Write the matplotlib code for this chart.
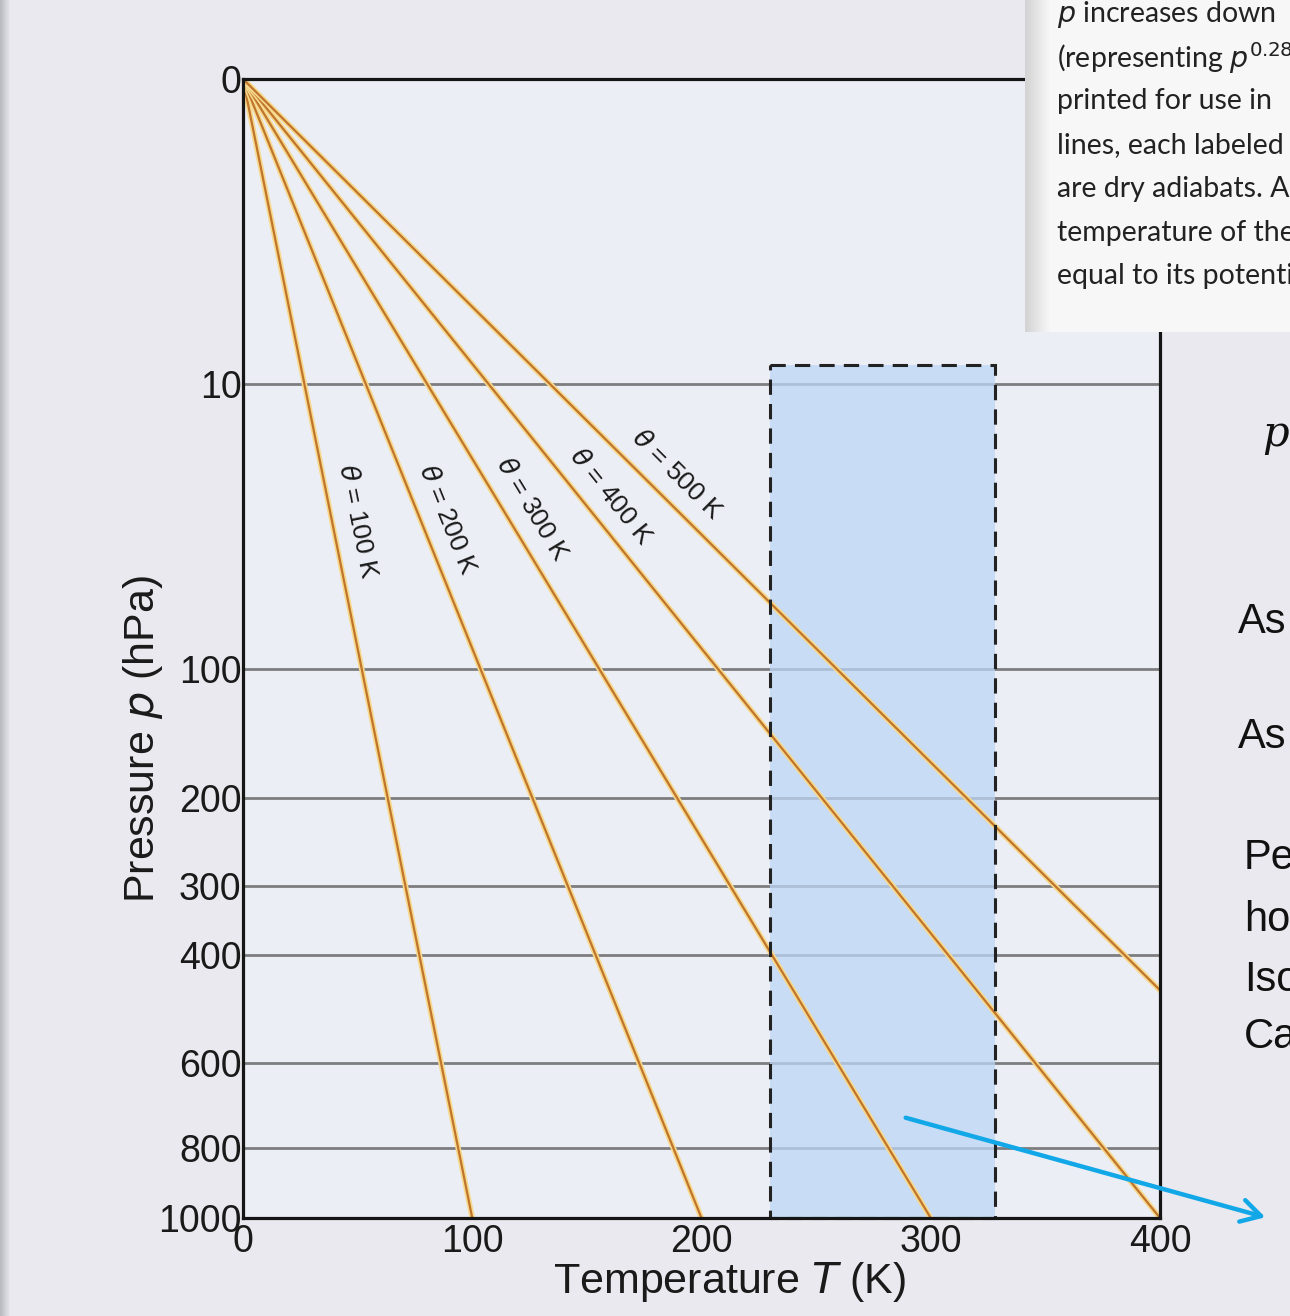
import numpy as np
import matplotlib
matplotlib.use("Agg")
import matplotlib.pyplot as plt
from matplotlib.patches import Rectangle
import matplotlib.patheffects as pe

plt.rcParams['font.family'] = ['Liberation Sans', 'DejaVu Sans']

KAPPA = 0.286
# dry adiabats (potential temperature, K) and where their labels sit (hPa)
thetas = [100, 200, 300, 400, 500]
label_p = [38, 39, 37, 34, 29]
# pressure grid / ticks (hPa)
p_ticks = [0, 10, 100, 200, 300, 400, 600, 800, 1000]
p_grid = [10, 100, 200, 300, 400, 600, 800]
T_ticks = [0, 100, 200, 300, 400]
# highlighted box: temperature range and top pressure
box_T = [230, 328]
box_p = [8, 1000]

inset_lines = ["$p$ increases down", "(representing $p^{0.286}$",
               "printed for use in", "lines, each labeled",
               "are dry adiabats. A", "temperature of the",
               "equal to its potential"]
side_words = ["As", "As", "Pe", "ho", "Iso", "Ca"]


def u(p):
    return np.asarray(p, dtype=float) ** KAPPA


u_max = float(u(1000))

fig = plt.figure(figsize=(12.9, 13.16), dpi=100)
fig.patch.set_facecolor('#e9e9ef')
ax = fig.add_axes([243/1290, 1 - 1218/1316, 917/1290, 1139/1316])
ax.set_facecolor('#eceef5')
ax.set_xlim(0, 400)
ax.set_ylim(u_max, 0)

# scanned page edge on the far left
for k in range(10):
    fig.patches.append(Rectangle((k/1290, 0), 1/1290, 1,
                                 transform=fig.transFigure,
                                 facecolor='#9a9aa2', alpha=0.6 * (1 - k/10),
                                 edgecolor='none', zorder=0))

for p in p_grid:
    ax.axhline(u(p), color='#7d7d80', lw=2.0, zorder=1)

# blue box
ax.add_patch(Rectangle((box_T[0], float(u(box_p[0]))), box_T[1] - box_T[0],
                       float(u(box_p[1]) - u(box_p[0])), facecolor='#bcd6f5',
                       alpha=0.75, edgecolor='none', zorder=2, clip_on=False))
ax.add_patch(Rectangle((box_T[0], float(u(box_p[0]))), box_T[1] - box_T[0],
                       float(u(box_p[1]) - u(box_p[0])), facecolor='none',
                       edgecolor='#222222', lw=2.2, ls=(0, (5, 3)), zorder=4,
                       clip_on=False))

uu = np.array([0, u_max])
for th in thetas:
    ax.plot(th * uu / u_max, uu, color='#c0742c', lw=1.6, zorder=3,
            solid_capstyle='butt',
            path_effects=[pe.Stroke(linewidth=4.0, foreground='#f6d98c'),
                          pe.Normal()])

fig.canvas.draw()
for th, pl in zip(thetas, label_p):
    uy = float(u(pl))
    Tx = th * uy / u_max
    x0, y0 = ax.transData.transform((0, 0))
    x1, y1 = ax.transData.transform((th, u_max))
    a = np.arctan2(y1 - y0, x1 - x0)
    off = 18
    ax.annotate(r'$\theta$ = %d K' % th, (Tx, uy),
                xytext=(-np.sin(a) * off, np.cos(a) * off),
                textcoords='offset points', rotation=np.degrees(a),
                rotation_mode='anchor', ha='center', va='center',
                fontsize=19, color='#1a1a1a', zorder=5)

ax.set_yticks(u(p_ticks), [str(p) for p in p_ticks])
ax.set_xticks(T_ticks, [str(t) for t in T_ticks])
ax.tick_params(axis='both', length=0, labelsize=27, colors='#1a1a1a')
ax.tick_params(axis='y', pad=1)
ax.tick_params(axis='x', pad=4)
for s in ax.spines.values():
    s.set_linewidth(2.3)
    s.set_color('#151515')
    s.set_zorder(6)

ax.set_xlabel('Temperature $T$ (K)', fontsize=31, color='#1a1a1a')
ax.set_ylabel('Pressure $p$ (hPa)', fontsize=31, color='#1a1a1a')
ax.xaxis.set_label_coords(0.53, -0.037)
ax.yaxis.set_label_coords(-0.085, 0.42)

# inset page snippet in the upper right
fig.patches.append(Rectangle((1025/1290, 1 - 332/1316), 265/1290, 332/1316,
                             transform=fig.transFigure, facecolor='#f7f7f7',
                             edgecolor='none', zorder=10))
for k in range(12):
    fig.patches.append(Rectangle(((1025 + k * 2)/1290, 1 - 332/1316), 2/1290,
                                 332/1316, transform=fig.transFigure,
                                 facecolor='#b0b0b0', alpha=0.5 * (1 - k/12),
                                 edgecolor='none', zorder=11))
for i, line in enumerate(inset_lines):
    fig.text(1057/1290, 1 - (14 + 43.7 * i)/1316, line, fontsize=20.5,
             family=['Lato', 'DejaVu Sans'], color='#222222', va='center',
             ha='left', zorder=12)

# fragments of slide text on the right edge
fig.text(1262/1290, 1 - 437/1316, '$p$', fontsize=30, color='#111111',
         va='center', ha='left', zorder=12, math_fontfamily='dejavuserif')
side_y = [622, 737, 858, 920, 980, 1037]
side_x = [1238, 1238, 1244, 1244, 1244, 1244]
for w, xx, yy in zip(side_words, side_x, side_y):
    fig.text(xx/1290, 1 - yy/1316, w, fontsize=30, color='#111111',
             va='center', ha='left', zorder=12)

# blue arrow overlay
fig.add_artist(matplotlib.patches.FancyArrowPatch(
    (903/1290, 1 - 1117/1316), (1268/1290, 1 - 1218/1316),
    transform=fig.transFigure, arrowstyle='->,head_length=14,head_width=8',
    color='#12a8e8', lw=3.2, zorder=12))

fig.savefig('out.png', dpi=100, facecolor=fig.get_facecolor())
